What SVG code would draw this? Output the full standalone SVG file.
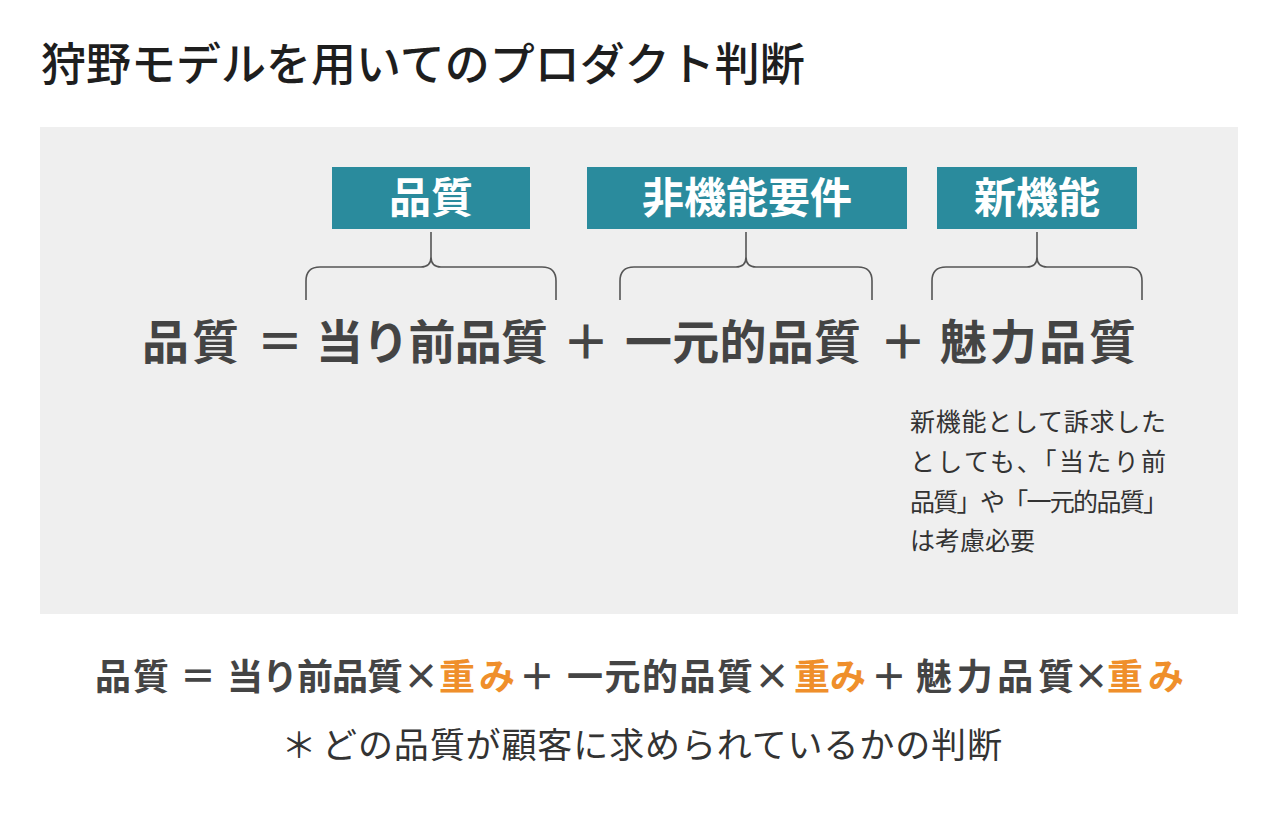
<svg xmlns="http://www.w3.org/2000/svg" width="1280" height="838" viewBox="0 0 1280 838">
<style>
text{font-family:"Noto Sans CJK JP","Noto Sans CJK SC",sans-serif}
.title{font-size:45px;font-weight:500;fill:#1e1e1e}
.box{fill:#2a8b9d}
.boxt{font-size:42px;font-weight:700;fill:#ffffff;text-anchor:middle}
.eq{font-size:47px;font-weight:700;fill:#444444}
.mid{text-anchor:middle}
.brace{fill:none;stroke:#555555;stroke-width:1.6}
.note{font-size:25px;fill:#333333}
.f2{font-size:36px;font-weight:700;fill:#444444}
.w{fill:#ef8f2b}
.sub{font-size:35px;fill:#333333}
</style>
<rect width="1280" height="838" fill="#ffffff"/>
<text class="title" x="41" y="81">狩野モデルを用いてのプロダクト判断</text>
<rect x="40" y="127" width="1198" height="487" fill="#efefef"/>

<g id="node-quality">
<rect class="box" x="332" y="167" width="198" height="62"/>
<text class="boxt" x="431" y="213">品質</text>
</g>
<g id="node-nonfunctional">
<rect class="box" x="587" y="167" width="320" height="62"/>
<text class="boxt" x="747" y="213">非機能要件</text>
</g>
<g id="node-newfeature">
<rect class="box" x="937" y="167" width="200" height="62"/>
<text class="boxt" x="1037" y="213">新機能</text>
</g>

<g id="connectors">
<path class="brace" d="M306,300 L306,281 Q306,267 320,267 L421,267 Q431,267 431,257 L431,232 M431,257 Q431,267 441,267 L542,267 Q556,267 556,281 L556,300"/>
<path class="brace" d="M620,300 L620,281 Q620,267 634,267 L736,267 Q746,267 746,257 L746,232 M746,257 Q746,267 756,267 L858,267 Q872,267 872,281 L872,300"/>
<path class="brace" d="M932,300 L932,281 Q932,267 946,267 L1027,267 Q1037,267 1037,257 L1037,232 M1037,257 Q1037,267 1047,267 L1128,267 Q1142,267 1142,281 L1142,300"/>
</g>

<g id="equation">
<text class="eq" x="142" y="359" textLength="97">品質</text>
<text class="eq mid" x="280" y="359">＝</text>
<text class="eq" x="316" y="359" textLength="232">当り前品質</text>
<text class="eq mid" x="586" y="359">＋</text>
<text class="eq" x="625" y="359" textLength="236">一元的品質</text>
<text class="eq mid" x="903" y="359">＋</text>
<text class="eq" x="940" y="359" textLength="196">魅力品質</text>
</g>

<g id="note">
<text class="note" x="910" y="431" textLength="256">新機能として訴求した</text>
<text class="note" x="910" y="471" textLength="256">としても、「当たり前</text>
<text class="note" x="910" y="511" textLength="258">品質」や「一元的品質」</text>
<text class="note" x="910" y="550">は考慮必要</text>
</g>

<g id="formula">
<text class="f2" x="95" y="690" textLength="74">品質</text>
<text class="f2 mid" x="198" y="690">＝</text>
<text class="f2" x="227" y="690" textLength="176">当り前品質</text>
<text class="f2 mid" x="421" y="690">×</text>
<text class="f2 w" x="439" y="690" textLength="76">重み</text>
<text class="f2 mid" x="537" y="690">＋</text>
<text class="f2" x="567" y="690" textLength="186">一元的品質</text>
<text class="f2 mid" x="772" y="690">×</text>
<text class="f2 w" x="794" y="690" textLength="72">重み</text>
<text class="f2 mid" x="889" y="690">＋</text>
<text class="f2" x="916" y="690" textLength="158">魅力品質</text>
<text class="f2 mid" x="1091" y="690">×</text>
<text class="f2 w" x="1107" y="690" textLength="77">重み</text>
</g>

<g id="footnote">
<text class="sub mid" x="299" y="758">＊</text>
<text class="sub" x="322" y="758" textLength="680">どの品質が顧客に求められているかの判断</text>
</g>
</svg>
